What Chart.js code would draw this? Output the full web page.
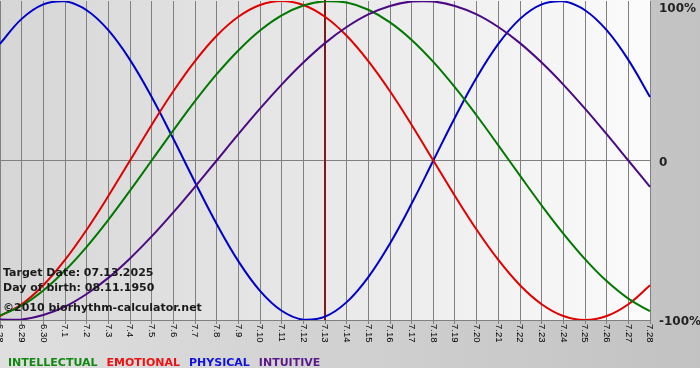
<!DOCTYPE html>
<html>
<head>
<meta charset="utf-8">
<script src="https://cdn.jsdelivr.net/npm/chart.js@4/dist/chart.umd.min.js"></script>
<style>
  body { margin: 0; background: #fff; }
  #chart { display: block; }
</style>
</head>
<body>
<canvas id="chart" width="700" height="380"></canvas>
<script>
// days shown on the x axis
const days = ['6.28', '6.29', '6.30', '7.1', '7.2', '7.3', '7.4', '7.5', '7.6', '7.7', '7.8',
  '7.9', '7.10', '7.11', '7.12', '7.13', '7.14', '7.15', '7.16', '7.17', '7.18', '7.19',
  '7.20', '7.21', '7.22', '7.23', '7.24', '7.25', '7.26', '7.27', '7.28'];

// percent values, one per day
const intellectual = [-97.2, -91.0, -81.5, -69.0, -54.1, -37.2, -18.9, 0, 18.9, 37.2, 54.1,
  69.0, 81.5, 91.0, 97.2, 99.9, 99.0, 94.5, 86.6, 75.6, 61.8, 45.8, 28.2, 9.5, -9.5, -28.2,
  -45.8, -61.8, -75.6, -86.6, -94.5];
const emotional = [-97.5, -90.1, -78.2, -62.3, -43.4, -22.3, 0, 22.3, 43.4, 62.3, 78.2,
  90.1, 97.5, 100, 97.5, 90.1, 78.2, 62.3, 43.4, 22.3, 0, -22.3, -43.4, -62.3, -78.2, -90.1,
  -97.5, -100, -97.5, -90.1, -78.2];
const physical = [73.1, 88.8, 97.9, 99.8, 94.2, 81.7, 63.1, 39.8, 13.6, -13.6, -39.8,
  -63.1, -81.7, -94.2, -99.8, -97.9, -88.8, -73.1, -52.0, -27.0, 0, 27.0, 52.0, 73.1, 88.8,
  97.9, 99.8, 94.2, 81.7, 63.1, 39.8];
const intuitive = [-99.7, -99.7, -96.9, -91.6, -83.7, -73.6, -61.4, -47.6, -32.5, -16.5, 0,
  16.5, 32.5, 47.6, 61.4, 73.6, 83.7, 91.6, 96.9, 99.7, 99.7, 96.9, 91.6, 83.7, 73.6, 61.4,
  47.6, 32.5, 16.5, 0, -16.5];

const targetDay = '7.13';
const yLabels = [[100, '100%'], [0, '0'], [-100, '-100%']];
const infoLines = ['Target Date: 07.13.2025', 'Day of birth: 08.11.1950'];
const credit = '\u00a92010 biorhythm-calculator.net';
const legendItems = [
  ['INTELLECTUAL', '#118811'],
  ['EMOTIONAL', '#ee1111'],
  ['PHYSICAL', '#1111dd'],
  ['INTUITIVE', '#5a1a8a']
];

const FONT = '"DejaVu Sans", Verdana, sans-serif';

// backgrounds, target marker and all the text
const backdrop = {
  id: 'backdrop',
  beforeDraw(chart) {
    const { ctx, width, height, chartArea: a } = chart;
    ctx.save();
    let g = ctx.createLinearGradient(0, 0, width, 0);
    g.addColorStop(0, '#dfdfdf');
    g.addColorStop(1, '#c2c2c2');
    ctx.fillStyle = g;
    ctx.fillRect(0, 0, width, 368);
    ctx.fillStyle = '#ffffff';
    ctx.fillRect(0, 368, width, height - 368);

    g = ctx.createLinearGradient(a.left, 0, a.right, 0);
    g.addColorStop(0, '#d6d6d6');
    g.addColorStop(1, '#fbfbfb');
    ctx.fillStyle = g;
    ctx.fillRect(a.left, a.top - 1, a.right - a.left, a.bottom - a.top + 1);
    ctx.restore();
  },
  beforeDatasetsDraw(chart) {
    const { ctx, chartArea: a } = chart;
    const x = chart.scales.x.getPixelForValue(days.indexOf(targetDay));
    ctx.save();
    ctx.strokeStyle = '#7a1a1a';
    ctx.lineWidth = 2;
    ctx.beginPath();
    ctx.moveTo(x, a.top - 1);
    ctx.lineTo(x, a.bottom);
    ctx.stroke();
    ctx.restore();
  },
  afterDraw(chart) {
    const { ctx } = chart;
    const xs = chart.scales.x, ys = chart.scales.y;
    ctx.save();

    // day labels, turned to read downwards
    ctx.fillStyle = '#000';
    ctx.font = '9.5px "Liberation Sans", Arial, sans-serif';
    ctx.textAlign = 'left';
    ctx.textBaseline = 'middle';
    days.forEach((d, i) => {
      const x = xs.getPixelForValue(i);
      ctx.save();
      ctx.translate(x, 324);
      ctx.rotate(Math.PI / 2);
      ctx.fillText(d, 0, 0);
      ctx.restore();
    });

    // percent labels on the right
    ctx.fillStyle = '#222';
    ctx.font = 'bold 12px ' + FONT;
    yLabels.forEach(([v, t]) => {
      let y = ys.getPixelForValue(v);
      if (v === 100) y += 8;
      else y += 2;
      ctx.fillText(t, 659, y);
    });

    // info text
    ctx.font = 'bold 11px ' + FONT;
    ctx.textBaseline = 'alphabetic';
    ctx.fillStyle = '#1a1a1a';
    ctx.fillText(infoLines[0], 3, 276);
    ctx.fillText(infoLines[1], 3, 291);
    ctx.fillText(credit, 3, 311);

    // legend
    let lx = 8;
    legendItems.forEach(([t, c]) => {
      ctx.fillStyle = c;
      ctx.fillText(t, lx, 366);
      lx += ctx.measureText(t).width + 9;
    });
    ctx.restore();
  }
};

function line(data, color) {
  return {
    data: data,
    borderColor: color,
    borderWidth: 2,
    pointRadius: 0,
    tension: 0.4,
    fill: false
  };
}

new Chart(document.getElementById('chart'), {
  type: 'line',
  data: {
    labels: days,
    datasets: [
      line(intuitive, '#4b0a82'),
      line(intellectual, '#007800'),
      line(emotional, '#e00000'),
      line(physical, '#0000c8')
    ]
  },
  options: {
    responsive: false,
    animation: false,
    layout: { padding: { left: 0, top: 1, right: 0, bottom: 0 } },
    plugins: { legend: { display: false }, tooltip: { enabled: false } },
    scales: {
      x: {
        offset: false,
        grid: { color: '#808080', lineWidth: 1, tickLength: 4, offset: false },
        border: { display: false },
        ticks: { display: false },
        afterFit(scale) { scale.height = 60; }
      },
      y: {
        position: 'right',
        min: -100,
        max: 100,
        ticks: { display: false, stepSize: 100 },
        grid: {
          drawTicks: false,
          color: (c) => (c.tick && c.tick.value === 100 ? 'rgba(0,0,0,0)' : '#808080')
        },
        border: { display: false },
        afterFit(scale) { scale.width = 50; }
      }
    }
  },
  plugins: [backdrop]
});
</script>
</body>
</html>
